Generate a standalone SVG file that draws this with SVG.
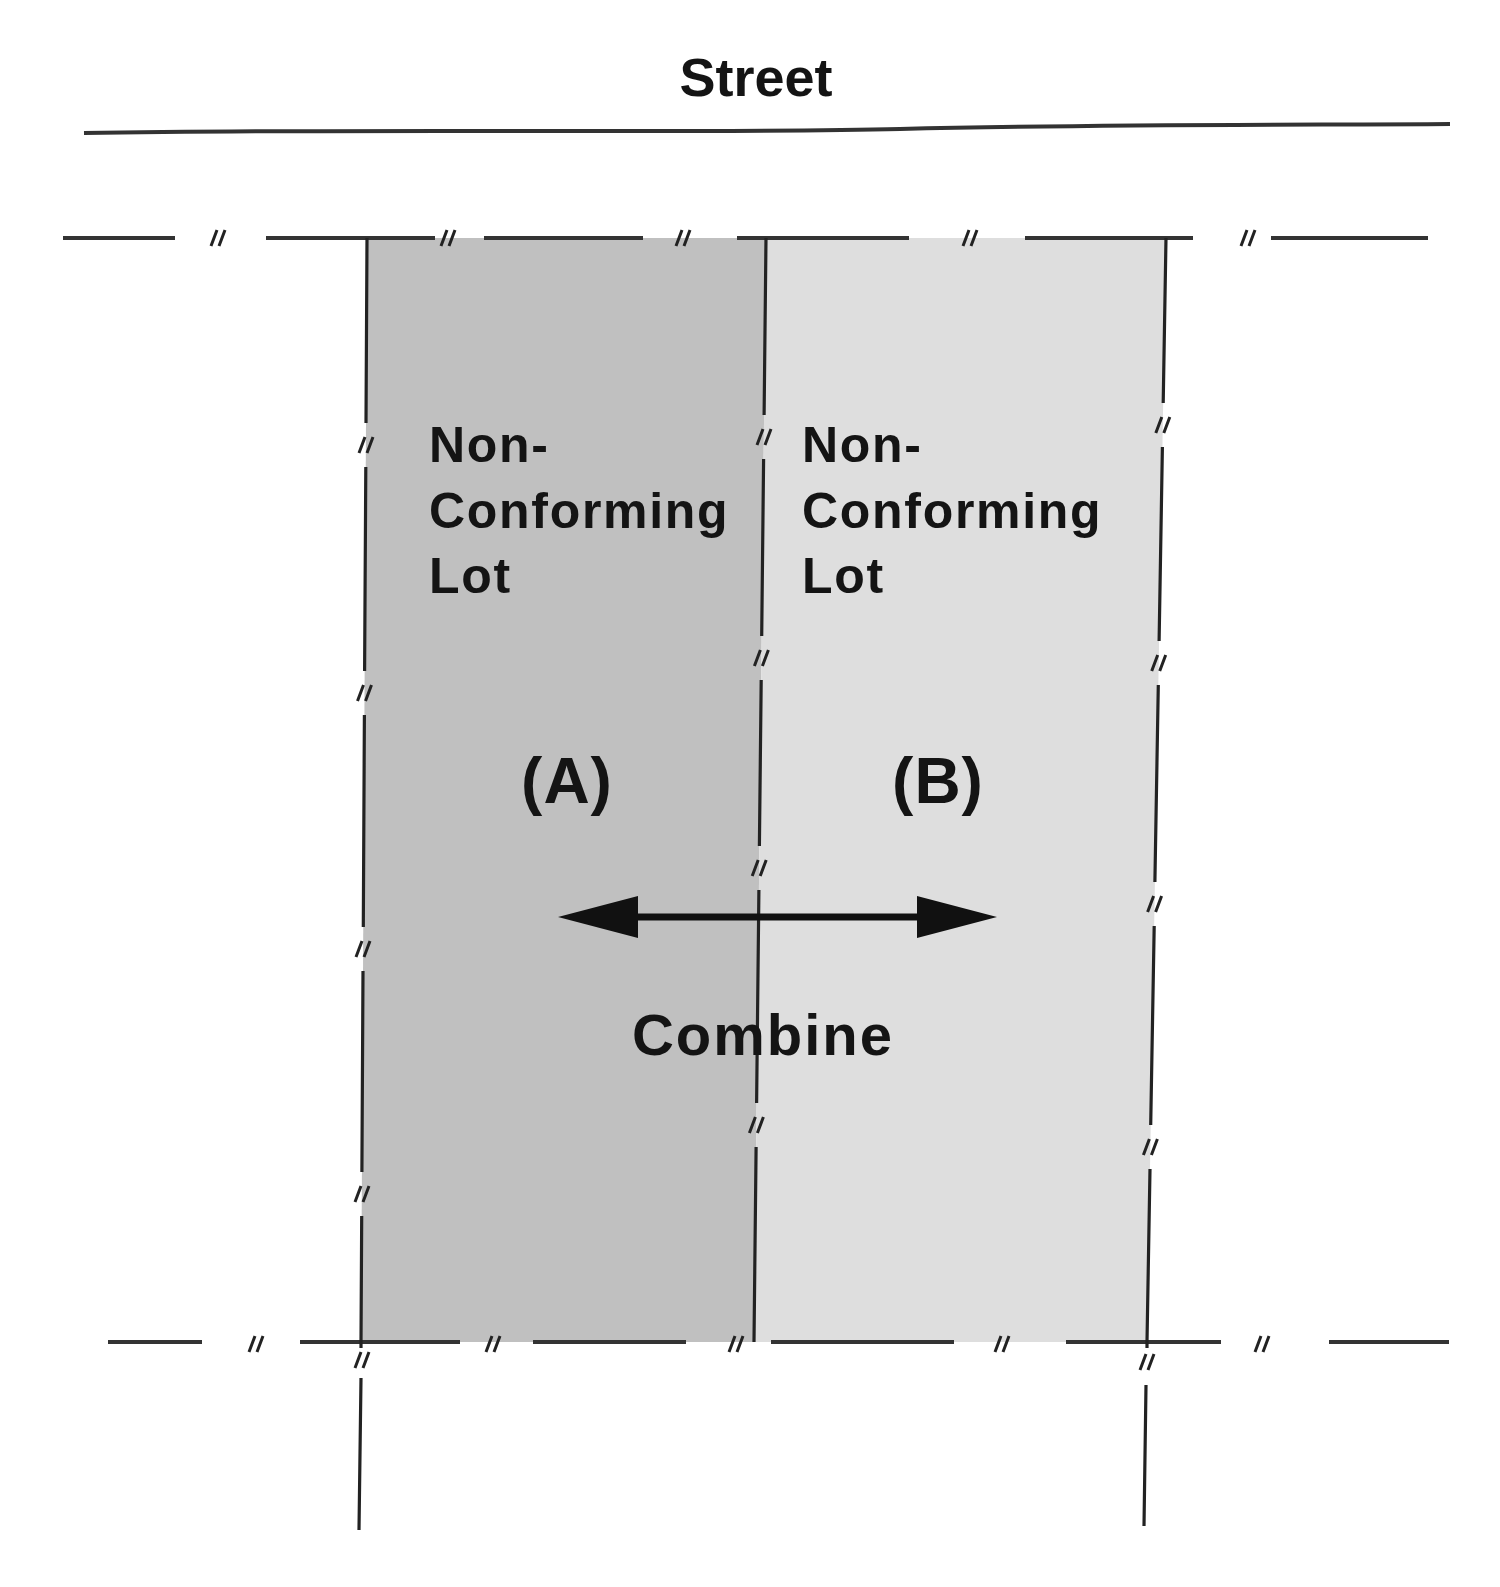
<svg xmlns="http://www.w3.org/2000/svg" xmlns:xlink="http://www.w3.org/1999/xlink" width="1500" height="1587" viewBox="0 0 1500 1587">
<style>
.t{font-family:"Liberation Sans",Arial,sans-serif;font-weight:bold;fill:#141414}
.ln{stroke:#222;stroke-width:3.2;fill:none;stroke-linecap:butt}
.dl{stroke:#333;stroke-width:4;fill:none}
.hm{stroke:#222;stroke-width:3;fill:none}
</style>
<defs>
<path id="hm" class="hm" d="M-7,8 L-1,-8 M1,8 L7,-8"/>
<marker id="ah" viewBox="0 0 80 42" refX="0" refY="21" markerWidth="80" markerHeight="42" markerUnits="userSpaceOnUse" orient="auto-start-reverse">
<path d="M0,0 L80,21 L0,42 Z" fill="#111"/>
</marker>
</defs>
<rect width="1500" height="1587" fill="#fff"/>

<g id="street">
<text class="t" x="756" y="96" font-size="54" text-anchor="middle">Street</text>
<path d="M84,133 C400,128 700,134 900,129 S1300,125 1450,124" stroke="#333" stroke-width="4" fill="none"/>
</g>

<g id="lotA">
<polygon points="367,238 766,238 754,1342 361,1342" fill="#c0c0c0"/>
<text class="t" font-size="50" letter-spacing="1.7"><tspan x="429" y="462">Non-</tspan><tspan x="429" y="528">Conforming</tspan><tspan x="429" y="593">Lot</tspan></text>
<text class="t" x="567" y="803" font-size="64" letter-spacing="1" text-anchor="middle">(A)</text>
</g>

<g id="lotB">
<polygon points="766,238 1166,238 1147,1342 754,1342" fill="#dedede"/>
<text class="t" font-size="50" letter-spacing="1.7"><tspan x="802" y="462">Non-</tspan><tspan x="802" y="528">Conforming</tspan><tspan x="802" y="593">Lot</tspan></text>
<text class="t" x="938" y="803" font-size="64" letter-spacing="1" text-anchor="middle">(B)</text>
</g>

<g id="lotlines">
<path class="dl" d="M63,238H175 M266,238H435 M484,238H643 M737,238H909 M1025,238H1193 M1271,238H1428"/>
<use href="#hm" x="218" y="238"/><use href="#hm" x="448" y="238"/><use href="#hm" x="683" y="238"/><use href="#hm" x="970" y="238"/><use href="#hm" x="1248" y="238"/>
<path class="dl" d="M108,1342H202 M300,1342H460 M533,1342H686 M771,1342H954 M1066,1342H1221 M1329,1342H1449"/>
<use href="#hm" x="256" y="1344"/><use href="#hm" x="493" y="1344"/><use href="#hm" x="736" y="1344"/><use href="#hm" x="1002" y="1344"/><use href="#hm" x="1262" y="1344"/>
<path class="ln" d="M367,238L366,423 M365.8,467L364.6,671 M364.4,715L363.3,927 M363,971L361.9,1172 M361.7,1216L361,1342"/>
<use href="#hm" x="366" y="445"/><use href="#hm" x="364.5" y="693"/><use href="#hm" x="363" y="949"/><use href="#hm" x="362" y="1194"/>
<path class="ln" d="M766,238L764.1,415 M763.6,459L761.7,636 M761.2,680L759.4,846 M758.9,890L756.6,1103 M756.1,1147L754,1342"/>
<use href="#hm" x="764" y="437"/><use href="#hm" x="761.4" y="658"/><use href="#hm" x="759.2" y="868"/><use href="#hm" x="756.4" y="1125"/>
<path class="ln" d="M1166,238L1163.2,403 M1162.4,447L1159.1,641 M1158.3,685L1154.9,882 M1154.2,926L1150.7,1125 M1150,1169L1147,1342"/>
<use href="#hm" x="1162.8" y="425"/><use href="#hm" x="1158.7" y="663"/><use href="#hm" x="1154.6" y="904"/><use href="#hm" x="1150.4" y="1147"/>
<path class="ln" d="M361,1342L361,1348 M361,1378L359,1530 M1147,1342L1147,1348 M1146,1385L1144,1526"/>
<use href="#hm" x="362" y="1360"/><use href="#hm" x="1147" y="1362"/>
</g>

<g id="combine">
<text class="t" x="763" y="1055" font-size="58" letter-spacing="2" text-anchor="middle">Combine</text>
</g>

<g id="connectors">
<line x1="638" y1="917" x2="917" y2="917" stroke="#111" stroke-width="7" marker-start="url(#ah)" marker-end="url(#ah)"/>
</g>
</svg>
